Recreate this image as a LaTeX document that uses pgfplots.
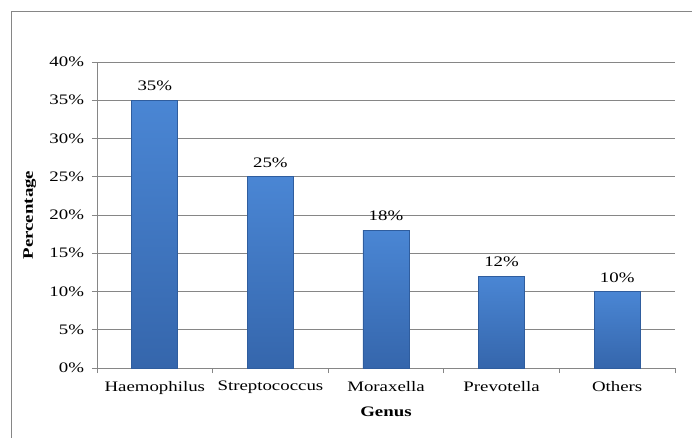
\documentclass[border=0pt]{standalone}
\usepackage{fontspec}
\setmainfont{Liberation Serif}[FakeStretch=1.3]
\usepackage{pgfplots}
\pgfplotsset{compat=1.18}
\definecolor{axisgray}{HTML}{868686}
\definecolor{barT}{HTML}{4A86D4}
\definecolor{barB}{HTML}{3566AC}
\definecolor{barE}{HTML}{2F5D9E}
\begin{document}
\fontsize{14.5bp}{17bp}\selectfont
\begin{tikzpicture}
\begin{axis}[
  scale only axis,
  width=578bp, height=306bp,
  at={(0,0)}, anchor=south west,
  ymin=0, ymax=40,
  xmin=-0.5, xmax=4.5,
  axis x line=bottom, axis y line=left,
  axis line style={draw=axisgray, line width=0.8bp, -},
  ytick={0,5,...,40},
  yticklabel={\pgfmathprintnumber{\tick}\%},
  /pgf/number format/assume math mode=true,
  ymajorgrids, grid style={draw=axisgray, line width=0.8bp},
  tick align=outside,
  major tick length=5bp,
  ytick style={draw=axisgray, line width=0.8bp},
  xtick={0,1,2,3,4},
  xticklabels={Haemophilus,Streptococcus,Moraxella,Prevotella,Others},
  xtick style={draw=none},
  extra x ticks={-0.5,0.5,1.5,2.5,3.5,4.5},
  extra x tick labels={},
  extra x tick style={xtick style={draw=axisgray, line width=0.8bp}, grid=none},
  tick label style={font=\fontsize{14.5bp}{17bp}\selectfont},
  yticklabel style={xshift=-3bp},
  xticklabel style={yshift=-3bp},
  xlabel={\textbf{Genus}},
  ylabel={\textbf{Percentage}},
  xlabel style={at={(axis description cs:0.5,0)}, anchor=north, yshift=-34bp},
  ylabel style={at={(axis description cs:0,0.5)}, anchor=south, yshift=56bp},
  label style={font=\fontsize{14.5bp}{17bp}\selectfont},
  clip=false,
  cycle list={{mark=none}},
  every axis plot post/.append style={ybar, bar width=46bp, bar shift=0pt, line width=0.8bp,
    draw=barE, top color=barT, bottom color=barB,
    nodes near coords={\pgfmathprintnumber{\pgfplotspointmeta}\%},
    nodes near coords style={text=black, font=\fontsize{14.5bp}{17bp}\selectfont, anchor=south, yshift=4bp, /pgf/number format/assume math mode=true}},
]
\addplot coordinates {(0,35)};
\addplot coordinates {(1,25)};
\addplot coordinates {(2,18)};
\addplot coordinates {(3,12)};
\addplot coordinates {(4,10)};
\end{axis}
\draw[axisgray, line width=0.8bp] (-86bp,-75bp) -- (-86bp,357bp) -- (600bp,357bp);
\pgfresetboundingbox
\useasboundingbox (-97bp,-70bp) rectangle (595bp,368bp);
\end{tikzpicture}
\end{document}
